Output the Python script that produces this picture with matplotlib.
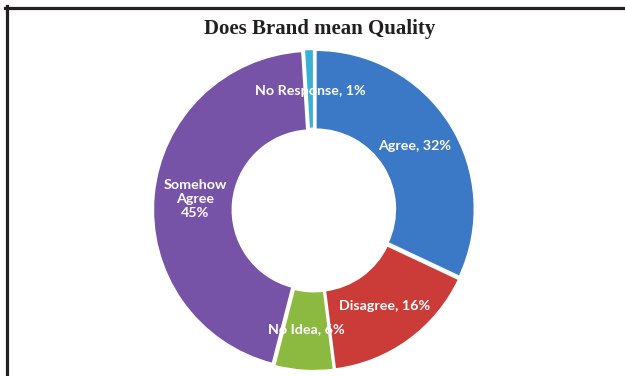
import numpy as np
import matplotlib
matplotlib.use("Agg")
import matplotlib.pyplot as plt
from matplotlib.lines import Line2D

# Survey responses
categories = ["Agree", "Disagree", "No Idea", "Somehow Agree", "No Response"]
shares = [32, 16, 6, 45, 1]
label_texts = ["Agree, 32%", "Disagree, 16%", "No Idea, 6%", "Somehow\nAgree\n45%", "No Response, 1%"]
colors = ["#3B78C6", "#CB3B37", "#8CB940", "#7753A7", "#36B2D6"]
title = "Does Brand mean Quality"

W, H = 625, 376
fig = plt.figure(figsize=(W / 100, H / 100), dpi=100)
fig.patch.set_facecolor("white")
ax = fig.add_axes([0, 0, 1, 1])

cx, cy, R = 314, 210, 159  # ring centre and radius in pixels
wedges, _ = ax.pie(
    shares,
    colors=colors,
    startangle=90,
    counterclock=False,
    radius=1.0,
    explode=[0.012] * len(shares),
    wedgeprops=dict(width=0.5, edgecolor="white", linewidth=1.5),
)

# Labels centred in the ring at each wedge's mid-angle
for w, txt in zip(wedges, label_texts):
    ang = np.deg2rad((w.theta1 + w.theta2) / 2)
    r = 0.75
    ax.text(r * np.cos(ang), r * np.sin(ang), txt, ha="center", va="center",
            color="white", fontsize=10.3, fontweight="bold", family="Lato",
            linespacing=1.2)

ax.set_aspect("auto")
ax.set_xlim(-cx / R, (W - cx) / R)
ax.set_ylim(-(H - cy) / R, cy / R)
ax.axis("off")

fig.text(320 / W, 1 - 29 / H, title, ha="center", va="center",
         family="Liberation Serif", fontweight="bold", fontsize=15, color="#231F20")

# Frame lines along the top and left edges
fig.add_artist(Line2D([5 / W, 1], [1 - 7.5 / H] * 2, color="#231F20", lw=2.3,
                      transform=fig.transFigure))
fig.add_artist(Line2D([6.5 / W] * 2, [0, 1 - 6 / H], color="#231F20", lw=2.3,
                      transform=fig.transFigure))

fig.savefig("out.png", dpi=100)
